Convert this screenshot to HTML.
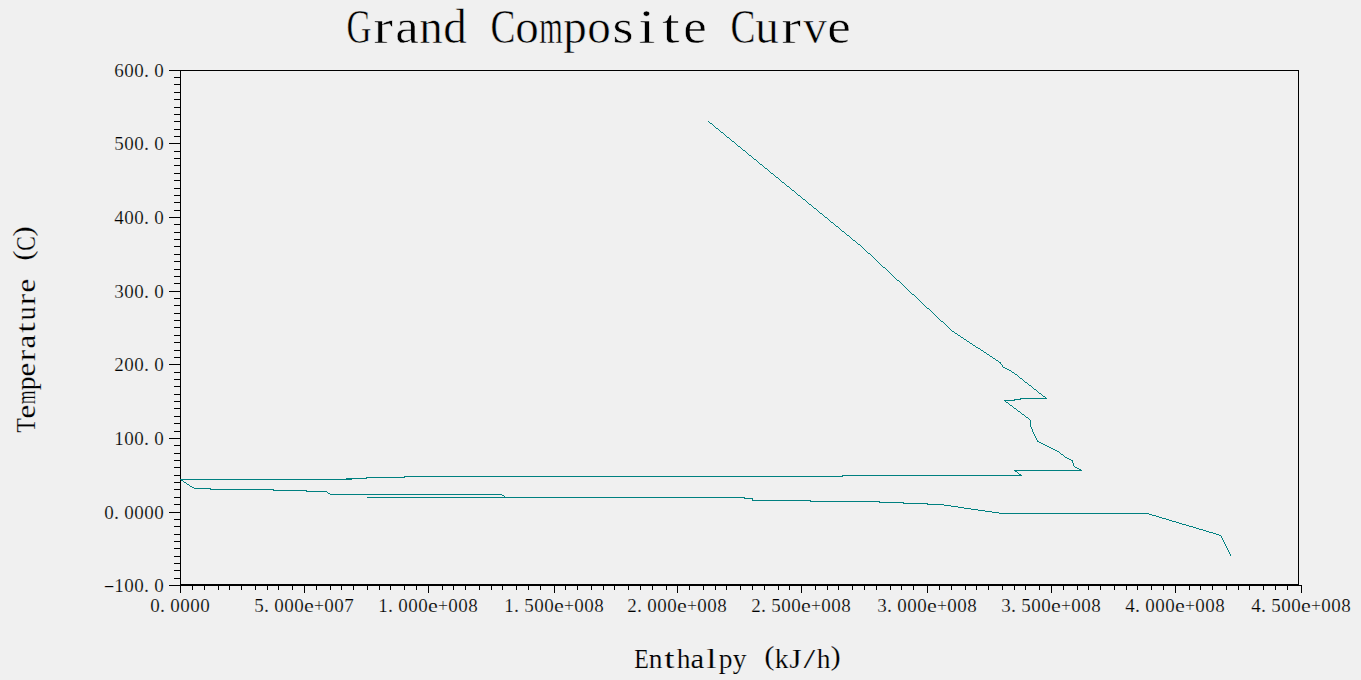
<!DOCTYPE html>
<html><head><meta charset="utf-8"><title>Grand Composite Curve</title>
<style>
html,body{margin:0;padding:0;background:#f0f0f0;overflow:hidden}
svg{display:block;font-family:"Liberation Serif",serif;}
text{fill:#000;white-space:pre}
</style></head>
<body>
<svg width="1361" height="680" viewBox="0 0 1361 680">
<rect width="1361" height="680" fill="#f0f0f0"/>
<path d="M169 70.5H1299M1298.5 70V586M180.5 70V593M180 584.5H1299M169 585.5H1302M174 77.5H181M174 84.5H181M174 92.5H181M174 99.5H181M174 107.5H181M174 114.5H181M174 121.5H181M174 129.5H181M174 136.5H181M169 143.5H181M174 151.5H181M174 158.5H181M174 165.5H181M174 173.5H181M174 180.5H181M174 188.5H181M174 195.5H181M174 202.5H181M174 210.5H181M169 217.5H181M174 224.5H181M174 232.5H181M174 239.5H181M174 246.5H181M174 254.5H181M174 261.5H181M174 269.5H181M174 276.5H181M174 283.5H181M169 291.5H181M174 298.5H181M174 305.5H181M174 313.5H181M174 320.5H181M174 327.5H181M174 335.5H181M174 342.5H181M174 350.5H181M174 357.5H181M169 364.5H181M174 372.5H181M174 379.5H181M174 386.5H181M174 394.5H181M174 401.5H181M174 408.5H181M174 416.5H181M174 423.5H181M174 431.5H181M169 438.5H181M174 445.5H181M174 453.5H181M174 460.5H181M174 467.5H181M174 475.5H181M174 482.5H181M174 489.5H181M174 497.5H181M174 504.5H181M169 512.5H181M174 519.5H181M174 526.5H181M174 534.5H181M174 541.5H181M174 548.5H181M174 556.5H181M174 563.5H181M174 570.5H181M174 578.5H181M192.5 585V590M204.5 585V590M218.5 585V590M229.5 585V590M241.5 585V590M255.5 585V590M267.5 585V590M278.5 585V590M292.5 585V590M304.5 585V593M316.5 585V590M330.5 585V590M341.5 585V590M353.5 585V590M367.5 585V590M379.5 585V590M390.5 585V590M404.5 585V590M416.5 585V590M428.5 585V593M442.5 585V590M453.5 585V590M465.5 585V590M479.5 585V590M491.5 585V590M502.5 585V590M516.5 585V590M528.5 585V590M540.5 585V590M554.5 585V593M565.5 585V590M577.5 585V590M591.5 585V590M603.5 585V590M614.5 585V590M628.5 585V590M640.5 585V590M652.5 585V590M666.5 585V590M677.5 585V593M689.5 585V590M703.5 585V590M715.5 585V590M726.5 585V590M740.5 585V590M752.5 585V590M764.5 585V590M778.5 585V590M789.5 585V590M801.5 585V593M815.5 585V590M827.5 585V590M838.5 585V590M852.5 585V590M864.5 585V590M876.5 585V590M890.5 585V590M901.5 585V590M913.5 585V590M927.5 585V593M939.5 585V590M951.5 585V590M965.5 585V590M976.5 585V590M988.5 585V590M1002.5 585V590M1014.5 585V590M1025.5 585V590M1039.5 585V590M1051.5 585V593M1063.5 585V590M1077.5 585V590M1088.5 585V590M1100.5 585V590M1114.5 585V590M1126.5 585V590M1137.5 585V590M1151.5 585V590M1163.5 585V590M1175.5 585V593M1189.5 585V590M1200.5 585V590M1212.5 585V590M1226.5 585V590M1238.5 585V590M1249.5 585V590M1263.5 585V590M1275.5 585V590M1287.5 585V590M1301.5 585V593" stroke="#000" stroke-width="1" fill="none" shape-rendering="crispEdges"/>
<path d="M708 121.5h1M709 122.5h1M710 123.5h2M712 124.5h1M713 125.5h1M714 126.5h1M715 127.5h1M716 128.5h2M718 129.5h1M719 130.5h1M720 131.5h1M721 132.5h2M723 133.5h1M724 134.5h1M725 135.5h1M726 136.5h1M727 137.5h2M729 138.5h1M730 139.5h1M731 140.5h1M732 141.5h2M734 142.5h1M735 143.5h1M736 144.5h1M737 145.5h1M738 146.5h2M740 147.5h1M741 148.5h1M742 149.5h1M743 150.5h2M745 151.5h1M746 152.5h1M747 153.5h1M748 154.5h1M749 155.5h2M751 156.5h1M752 157.5h1M753 158.5h1M754 159.5h2M756 160.5h1M757 161.5h1M758 162.5h1M759 163.5h1M760 164.5h2M762 165.5h1M763 166.5h1M764 167.5h1M765 168.5h2M767 169.5h1M768 170.5h1M769 171.5h1M770 172.5h1M771 173.5h2M773 174.5h1M774 175.5h1M775 176.5h1M776 177.5h2M778 178.5h1M779 179.5h1M780 180.5h1M781 181.5h1M782 182.5h2M784 183.5h1M785 184.5h1M786 185.5h1M787 186.5h2M789 187.5h1M790 188.5h1M791 189.5h1M792 190.5h2M794 191.5h1M795 192.5h1M796 193.5h1M797 194.5h1M798 195.5h2M800 196.5h1M801 197.5h1M802 198.5h1M803 199.5h2M805 200.5h1M806 201.5h1M807 202.5h1M808 203.5h1M809 204.5h2M811 205.5h1M812 206.5h1M813 207.5h1M814 208.5h2M816 209.5h1M817 210.5h1M818 211.5h1M819 212.5h1M820 213.5h2M822 214.5h1M823 215.5h1M824 216.5h1M825 217.5h2M827 218.5h1M828 219.5h1M829 220.5h1M830 221.5h1M831 222.5h2M833 223.5h1M834 224.5h1M835 225.5h1M836 226.5h2M838 227.5h1M839 228.5h1M840 229.5h1M841 230.5h1M842 231.5h2M844 232.5h1M845 233.5h1M846 234.5h1M847 235.5h2M849 236.5h1M850 237.5h1M851 238.5h1M852 239.5h1M853 240.5h2M855 241.5h1M856 242.5h1M857 243.5h1M858 244.5h2M860 245.5h1M861 246.5h1M862 247.5h1M863 248.5h1M864 249.5h1M865 250.5h1M866 251.5h1M867 252.5h1M868 253.5h2M870 254.5h1M871 255.5h1M872 256.5h1M873 257.5h1M874 258.5h1M875 259.5h1M876 260.5h1M877 261.5h1M878 262.5h1M879 263.5h1M880 264.5h1M881 265.5h1M882 266.5h1M883 267.5h2M885 268.5h1M886 269.5h1M887 270.5h1M888 271.5h1M889 272.5h1M890 273.5h1M891 274.5h1M892 275.5h1M893 276.5h1M894 277.5h1M895 278.5h1M896 279.5h1M897 280.5h2M899 281.5h1M900 282.5h1M901 283.5h1M902 284.5h1M903 285.5h1M904 286.5h1M905 287.5h1M906 288.5h1M907 289.5h1M908 290.5h1M909 291.5h1M910 292.5h1M911 293.5h1M912 294.5h2M914 295.5h1M915 296.5h1M916 297.5h1M917 298.5h1M918 299.5h1M919 300.5h1M920 301.5h1M921 302.5h1M922 303.5h1M923 304.5h1M924 305.5h1M925 306.5h1M926 307.5h1M927 308.5h2M929 309.5h1M930 310.5h1M931 311.5h1M932 312.5h1M933 313.5h1M934 314.5h1M935 315.5h1M936 316.5h1M937 317.5h1M938 318.5h1M939 319.5h1M940 320.5h1M941 321.5h2M943 322.5h1M944 323.5h1M945 324.5h1M946 325.5h1M947 326.5h1M948 327.5h1M949 328.5h1M950 329.5h1M951 330.5h1M952 331.5h2M954 332.5h1M955 333.5h2M957 334.5h1M958 335.5h2M960 336.5h1M961 337.5h2M963 338.5h1M964 339.5h2M966 340.5h1M967 341.5h2M969 342.5h1M970 343.5h2M972 344.5h1M973 345.5h2M975 346.5h1M976 347.5h2M978 348.5h2M980 349.5h1M981 350.5h2M983 351.5h1M984 352.5h2M986 353.5h1M987 354.5h2M989 355.5h1M990 356.5h2M992 357.5h1M993 358.5h2M995 359.5h1M996 360.5h2M998 361.5h1M999 362.5h2M1000 363.5h1M1001 364.5h1M1002 365.5h1M1002 366.5h1M1003 367.5h2M1005 368.5h2M1007 369.5h2M1009 370.5h2M1011 371.5h1M1012 372.5h2M1014 373.5h1M1015 374.5h2M1017 375.5h1M1018 376.5h1M1019 377.5h1M1020 378.5h2M1022 379.5h1M1023 380.5h1M1024 381.5h1M1025 382.5h2M1027 383.5h1M1028 384.5h1M1029 385.5h2M1031 386.5h1M1032 387.5h1M1033 388.5h1M1034 389.5h2M1036 390.5h1M1037 391.5h1M1038 392.5h1M1039 393.5h2M1041 394.5h1M1042 395.5h1M1043 396.5h2M1045 397.5h1M1020 398.5h27M1014 399.5h7M1004 400.5h11M1005 401.5h1M1006 402.5h2M1008 403.5h1M1009 404.5h1M1010 405.5h2M1012 406.5h1M1013 407.5h1M1014 408.5h2M1016 409.5h1M1017 410.5h1M1018 411.5h2M1020 412.5h1M1021 413.5h1M1022 414.5h2M1024 415.5h1M1025 416.5h1M1026 417.5h2M1028 418.5h1M1029 419.5h1M1030 420.5h1M1030 421.5h1M1030 422.5h1M1030 423.5h1M1030 424.5h1M1030 425.5h1M1030 426.5h1M1031 427.5h1M1031 428.5h1M1032 429.5h1M1032 430.5h1M1032 431.5h1M1033 432.5h1M1033 433.5h1M1034 434.5h1M1034 435.5h1M1035 436.5h1M1035 437.5h1M1036 438.5h1M1036 439.5h1M1037 440.5h1M1037 441.5h2M1039 442.5h2M1041 443.5h2M1043 444.5h2M1045 445.5h2M1047 446.5h2M1049 447.5h2M1051 448.5h2M1053 449.5h2M1055 450.5h2M1057 451.5h2M1059 452.5h1M1060 453.5h1M1061 454.5h2M1063 455.5h1M1064 456.5h1M1065 457.5h2M1067 458.5h2M1069 459.5h2M1071 460.5h2M1072 461.5h1M1072 462.5h1M1073 463.5h1M1073 464.5h1M1073 465.5h1M1074 466.5h1M1075 467.5h2M1077 468.5h2M1079 469.5h2M1014 470.5h68M1015 471.5h2M1017 472.5h1M1018 473.5h1M1019 474.5h2M842 475.5h180M404 476.5h439M366 477.5h39M346 478.5h21M180 479.5h172M181 480.5h2M183 481.5h1M184 482.5h2M186 483.5h1M187 484.5h2M189 485.5h1M190 486.5h2M192 487.5h2M194 488.5h17M210 489.5h64M273 490.5h34M306 491.5h21M327 492.5h1M328 493.5h2M330 494.5h172M502 495.5h2M504 496.5h1M367 497.5h378M744 498.5h9M752 499.5h1M752 500.5h59M810 501.5h70M879 502.5h25M903 503.5h25M927 504.5h17M944 505.5h7M951 506.5h7M958 507.5h6M964 508.5h7M971 509.5h7M978 510.5h7M985 511.5h7M992 512.5h7M999 513.5h150M1149 514.5h3M1152 515.5h4M1156 516.5h3M1159 517.5h3M1162 518.5h4M1166 519.5h3M1169 520.5h3M1172 521.5h4M1176 522.5h3M1179 523.5h3M1182 524.5h4M1186 525.5h3M1189 526.5h4M1193 527.5h3M1196 528.5h3M1199 529.5h4M1203 530.5h3M1206 531.5h3M1209 532.5h4M1213 533.5h3M1216 534.5h3M1219 535.5h2M1221 536.5h1M1221 537.5h1M1222 538.5h1M1222 539.5h1M1223 540.5h1M1223 541.5h1M1224 542.5h1M1224 543.5h1M1225 544.5h1M1225 545.5h1M1226 546.5h1M1226 547.5h1M1227 548.5h1M1227 549.5h1M1228 550.5h1M1228 551.5h1M1229 552.5h1M1229 553.5h1M1230 554.5h1M1230 555.5h1" stroke="#008080" stroke-width="1" fill="none" shape-rendering="crispEdges"/>
<g>
<text y="42.5" font-size="48" stroke="#f0f0f0" stroke-width="0.55"><tspan x="346.52" textLength="24.96" lengthAdjust="spacingAndGlyphs">G</tspan><tspan x="373.16" textLength="19.68" lengthAdjust="spacingAndGlyphs">r</tspan><tspan x="395.24" textLength="23.52" lengthAdjust="spacingAndGlyphs">a</tspan><tspan x="419.24" textLength="23.52" lengthAdjust="spacingAndGlyphs">n</tspan><tspan x="443.24" textLength="23.52" lengthAdjust="spacingAndGlyphs">d</tspan> <tspan x="490.52" textLength="24.96" lengthAdjust="spacingAndGlyphs">C</tspan><tspan x="515.24" textLength="23.52" lengthAdjust="spacingAndGlyphs">o</tspan><tspan x="539.24" textLength="23.52" lengthAdjust="spacingAndGlyphs">m</tspan><tspan x="563.24" textLength="23.52" lengthAdjust="spacingAndGlyphs">p</tspan><tspan x="587.24" textLength="23.52" lengthAdjust="spacingAndGlyphs">o</tspan><tspan x="612.44" textLength="21.12" lengthAdjust="spacingAndGlyphs">s</tspan><tspan x="638.12" textLength="17.76" lengthAdjust="spacingAndGlyphs">i</tspan><tspan x="662.12" textLength="17.76" lengthAdjust="spacingAndGlyphs">t</tspan><tspan x="683.24" textLength="23.52" lengthAdjust="spacingAndGlyphs">e</tspan> <tspan x="730.52" textLength="24.96" lengthAdjust="spacingAndGlyphs">C</tspan><tspan x="755.24" textLength="23.52" lengthAdjust="spacingAndGlyphs">u</tspan><tspan x="781.16" textLength="19.68" lengthAdjust="spacingAndGlyphs">r</tspan><tspan x="803.24" textLength="23.52" lengthAdjust="spacingAndGlyphs">v</tspan><tspan x="827.24" textLength="23.52" lengthAdjust="spacingAndGlyphs">e</tspan></text>
<text y="668" font-size="28" stroke="#f0f0f0" stroke-width="0.18"><tspan x="634.22" textLength="14.56" lengthAdjust="spacingAndGlyphs">E</tspan><tspan x="648.64" textLength="13.72" lengthAdjust="spacingAndGlyphs">n</tspan><tspan x="664.32" textLength="10.36" lengthAdjust="spacingAndGlyphs">t</tspan><tspan x="676.64" textLength="13.72" lengthAdjust="spacingAndGlyphs">h</tspan><tspan x="690.64" textLength="13.72" lengthAdjust="spacingAndGlyphs">a</tspan><tspan x="706.32" textLength="10.36" lengthAdjust="spacingAndGlyphs">l</tspan><tspan x="718.64" textLength="13.72" lengthAdjust="spacingAndGlyphs">p</tspan><tspan x="732.64" textLength="13.72" lengthAdjust="spacingAndGlyphs">y</tspan> <tspan x="764.24" y="664.78" textLength="10.26" lengthAdjust="spacingAndGlyphs">(</tspan><tspan x="774.64" y="668" textLength="13.72" lengthAdjust="spacingAndGlyphs">k</tspan><tspan x="789.34" y="668" textLength="12.32" lengthAdjust="spacingAndGlyphs">J</tspan><tspan x="803.62" textLength="11.76" lengthAdjust="spacingAndGlyphs">/</tspan><tspan x="816.64" textLength="13.72" lengthAdjust="spacingAndGlyphs">h</tspan><tspan x="830.50" y="664.78" textLength="10.26" lengthAdjust="spacingAndGlyphs">)</tspan></text>
<g transform="translate(35.3,432.5) rotate(-90)"><text y="0" font-size="28" stroke="#f0f0f0" stroke-width="0.18"><tspan x="-0.28" textLength="14.56" lengthAdjust="spacingAndGlyphs">T</tspan><tspan x="14.14" textLength="13.72" lengthAdjust="spacingAndGlyphs">e</tspan><tspan x="28.14" textLength="13.72" lengthAdjust="spacingAndGlyphs">m</tspan><tspan x="42.14" textLength="13.72" lengthAdjust="spacingAndGlyphs">p</tspan><tspan x="56.14" textLength="13.72" lengthAdjust="spacingAndGlyphs">e</tspan><tspan x="71.26" textLength="11.48" lengthAdjust="spacingAndGlyphs">r</tspan><tspan x="84.14" textLength="13.72" lengthAdjust="spacingAndGlyphs">a</tspan><tspan x="99.82" textLength="10.36" lengthAdjust="spacingAndGlyphs">t</tspan><tspan x="112.14" textLength="13.72" lengthAdjust="spacingAndGlyphs">u</tspan><tspan x="127.26" textLength="11.48" lengthAdjust="spacingAndGlyphs">r</tspan><tspan x="140.14" textLength="13.72" lengthAdjust="spacingAndGlyphs">e</tspan> <tspan x="171.74" y="-3.22" textLength="10.26" lengthAdjust="spacingAndGlyphs">(</tspan><tspan x="181.72" y="0" textLength="14.56" lengthAdjust="spacingAndGlyphs">C</tspan><tspan x="196.00" y="-3.22" textLength="10.26" lengthAdjust="spacingAndGlyphs">)</tspan></text></g>
<text y="77.2" font-size="19" stroke="#f0f0f0" stroke-width="0.2"><tspan x="114.25">6</tspan><tspan x="124.25">0</tspan><tspan x="134.25">0</tspan><tspan x="144.00" textLength="5.00" lengthAdjust="spacingAndGlyphs">.</tspan><tspan x="154.25">0</tspan></text>
<text y="150.2" font-size="19" stroke="#f0f0f0" stroke-width="0.2"><tspan x="114.25">5</tspan><tspan x="124.25">0</tspan><tspan x="134.25">0</tspan><tspan x="144.00" textLength="5.00" lengthAdjust="spacingAndGlyphs">.</tspan><tspan x="154.25">0</tspan></text>
<text y="224.2" font-size="19" stroke="#f0f0f0" stroke-width="0.2"><tspan x="114.25">4</tspan><tspan x="124.25">0</tspan><tspan x="134.25">0</tspan><tspan x="144.00" textLength="5.00" lengthAdjust="spacingAndGlyphs">.</tspan><tspan x="154.25">0</tspan></text>
<text y="298.2" font-size="19" stroke="#f0f0f0" stroke-width="0.2"><tspan x="114.25">3</tspan><tspan x="124.25">0</tspan><tspan x="134.25">0</tspan><tspan x="144.00" textLength="5.00" lengthAdjust="spacingAndGlyphs">.</tspan><tspan x="154.25">0</tspan></text>
<text y="371.2" font-size="19" stroke="#f0f0f0" stroke-width="0.2"><tspan x="114.25">2</tspan><tspan x="124.25">0</tspan><tspan x="134.25">0</tspan><tspan x="144.00" textLength="5.00" lengthAdjust="spacingAndGlyphs">.</tspan><tspan x="154.25">0</tspan></text>
<text y="445.2" font-size="19" stroke="#f0f0f0" stroke-width="0.2"><tspan x="114.25">1</tspan><tspan x="124.25">0</tspan><tspan x="134.25">0</tspan><tspan x="144.00" textLength="5.00" lengthAdjust="spacingAndGlyphs">.</tspan><tspan x="154.25">0</tspan></text>
<text y="519.2" font-size="19" stroke="#f0f0f0" stroke-width="0.2"><tspan x="104.25">0</tspan><tspan x="114.00" textLength="5.00" lengthAdjust="spacingAndGlyphs">.</tspan><tspan x="124.25">0</tspan><tspan x="134.25">0</tspan><tspan x="144.25">0</tspan><tspan x="154.25">0</tspan></text>
<text y="592.2" font-size="19" stroke="#f0f0f0" stroke-width="0.2"><tspan x="103.40" y="590.59" textLength="11.20" lengthAdjust="spacingAndGlyphs">-</tspan><tspan x="114.25" y="592.2">1</tspan><tspan x="124.25" y="592.2">0</tspan><tspan x="134.25">0</tspan><tspan x="144.00" textLength="5.00" lengthAdjust="spacingAndGlyphs">.</tspan><tspan x="154.25">0</tspan></text>
<text y="612" font-size="19" stroke="#f0f0f0" stroke-width="0.2"><tspan x="150.25">0</tspan><tspan x="160.00" textLength="5.00" lengthAdjust="spacingAndGlyphs">.</tspan><tspan x="170.25">0</tspan><tspan x="180.25">0</tspan><tspan x="190.25">0</tspan><tspan x="200.25">0</tspan></text>
<text y="612" font-size="19" stroke="#f0f0f0" stroke-width="0.2"><tspan x="254.25">5</tspan><tspan x="264.00" textLength="5.00" lengthAdjust="spacingAndGlyphs">.</tspan><tspan x="274.25">0</tspan><tspan x="284.25">0</tspan><tspan x="294.25">0</tspan><tspan x="304.10" textLength="9.80" lengthAdjust="spacingAndGlyphs">e</tspan><tspan x="314.00" textLength="10.00" lengthAdjust="spacingAndGlyphs">+</tspan><tspan x="324.25">0</tspan><tspan x="334.25">0</tspan><tspan x="344.25">7</tspan></text>
<text y="612" font-size="19" stroke="#f0f0f0" stroke-width="0.2"><tspan x="378.25">1</tspan><tspan x="388.00" textLength="5.00" lengthAdjust="spacingAndGlyphs">.</tspan><tspan x="398.25">0</tspan><tspan x="408.25">0</tspan><tspan x="418.25">0</tspan><tspan x="428.10" textLength="9.80" lengthAdjust="spacingAndGlyphs">e</tspan><tspan x="438.00" textLength="10.00" lengthAdjust="spacingAndGlyphs">+</tspan><tspan x="448.25">0</tspan><tspan x="458.25">0</tspan><tspan x="468.25">8</tspan></text>
<text y="612" font-size="19" stroke="#f0f0f0" stroke-width="0.2"><tspan x="504.25">1</tspan><tspan x="514.00" textLength="5.00" lengthAdjust="spacingAndGlyphs">.</tspan><tspan x="524.25">5</tspan><tspan x="534.25">0</tspan><tspan x="544.25">0</tspan><tspan x="554.10" textLength="9.80" lengthAdjust="spacingAndGlyphs">e</tspan><tspan x="564.00" textLength="10.00" lengthAdjust="spacingAndGlyphs">+</tspan><tspan x="574.25">0</tspan><tspan x="584.25">0</tspan><tspan x="594.25">8</tspan></text>
<text y="612" font-size="19" stroke="#f0f0f0" stroke-width="0.2"><tspan x="627.25">2</tspan><tspan x="637.00" textLength="5.00" lengthAdjust="spacingAndGlyphs">.</tspan><tspan x="647.25">0</tspan><tspan x="657.25">0</tspan><tspan x="667.25">0</tspan><tspan x="677.10" textLength="9.80" lengthAdjust="spacingAndGlyphs">e</tspan><tspan x="687.00" textLength="10.00" lengthAdjust="spacingAndGlyphs">+</tspan><tspan x="697.25">0</tspan><tspan x="707.25">0</tspan><tspan x="717.25">8</tspan></text>
<text y="612" font-size="19" stroke="#f0f0f0" stroke-width="0.2"><tspan x="751.25">2</tspan><tspan x="761.00" textLength="5.00" lengthAdjust="spacingAndGlyphs">.</tspan><tspan x="771.25">5</tspan><tspan x="781.25">0</tspan><tspan x="791.25">0</tspan><tspan x="801.10" textLength="9.80" lengthAdjust="spacingAndGlyphs">e</tspan><tspan x="811.00" textLength="10.00" lengthAdjust="spacingAndGlyphs">+</tspan><tspan x="821.25">0</tspan><tspan x="831.25">0</tspan><tspan x="841.25">8</tspan></text>
<text y="612" font-size="19" stroke="#f0f0f0" stroke-width="0.2"><tspan x="877.25">3</tspan><tspan x="887.00" textLength="5.00" lengthAdjust="spacingAndGlyphs">.</tspan><tspan x="897.25">0</tspan><tspan x="907.25">0</tspan><tspan x="917.25">0</tspan><tspan x="927.10" textLength="9.80" lengthAdjust="spacingAndGlyphs">e</tspan><tspan x="937.00" textLength="10.00" lengthAdjust="spacingAndGlyphs">+</tspan><tspan x="947.25">0</tspan><tspan x="957.25">0</tspan><tspan x="967.25">8</tspan></text>
<text y="612" font-size="19" stroke="#f0f0f0" stroke-width="0.2"><tspan x="1001.25">3</tspan><tspan x="1011.00" textLength="5.00" lengthAdjust="spacingAndGlyphs">.</tspan><tspan x="1021.25">5</tspan><tspan x="1031.25">0</tspan><tspan x="1041.25">0</tspan><tspan x="1051.10" textLength="9.80" lengthAdjust="spacingAndGlyphs">e</tspan><tspan x="1061.00" textLength="10.00" lengthAdjust="spacingAndGlyphs">+</tspan><tspan x="1071.25">0</tspan><tspan x="1081.25">0</tspan><tspan x="1091.25">8</tspan></text>
<text y="612" font-size="19" stroke="#f0f0f0" stroke-width="0.2"><tspan x="1125.25">4</tspan><tspan x="1135.00" textLength="5.00" lengthAdjust="spacingAndGlyphs">.</tspan><tspan x="1145.25">0</tspan><tspan x="1155.25">0</tspan><tspan x="1165.25">0</tspan><tspan x="1175.10" textLength="9.80" lengthAdjust="spacingAndGlyphs">e</tspan><tspan x="1185.00" textLength="10.00" lengthAdjust="spacingAndGlyphs">+</tspan><tspan x="1195.25">0</tspan><tspan x="1205.25">0</tspan><tspan x="1215.25">8</tspan></text>
<text y="612" font-size="19" stroke="#f0f0f0" stroke-width="0.2"><tspan x="1251.25">4</tspan><tspan x="1261.00" textLength="5.00" lengthAdjust="spacingAndGlyphs">.</tspan><tspan x="1271.25">5</tspan><tspan x="1281.25">0</tspan><tspan x="1291.25">0</tspan><tspan x="1301.10" textLength="9.80" lengthAdjust="spacingAndGlyphs">e</tspan><tspan x="1311.00" textLength="10.00" lengthAdjust="spacingAndGlyphs">+</tspan><tspan x="1321.25">0</tspan><tspan x="1331.25">0</tspan><tspan x="1341.25">8</tspan></text>
</g>
</svg>
</body></html>
